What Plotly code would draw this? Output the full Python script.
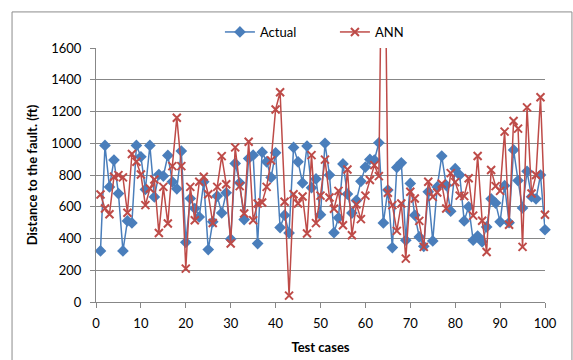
import plotly.graph_objects as go

# Test case numbers 1..100
test_cases = list(range(1, 101))

# Actual distance to the fault (ft)
actual = [
    322, 986, 725, 894, 683, 322, 511, 498, 986, 915,
    709, 986, 662, 803, 793, 923, 757, 713, 951, 376,
    652, 589, 536, 757, 330, 505, 667, 561, 688, 397,
    873, 751, 519, 904, 925, 368, 944, 883, 785, 940,
    469, 547, 435, 974, 883, 750, 982, 720, 775, 550,
    1000, 800, 437, 530, 870, 680, 560, 640, 760, 850,
    898, 894, 1003, 498, 705, 343, 848, 877, 389, 747,
    547, 410, 351, 694, 385, 725, 919, 735, 572, 840,
    800, 511, 600, 389, 415, 379, 473, 650, 623, 505,
    733, 500, 958, 765, 592, 823, 663, 650, 800, 455,
]

# ANN estimated distance (ft)
ann = [
    677, 589, 553, 789, 799, 785, 562, 932, 883, 803,
    610, 715, 772, 435, 725, 494, 856, 1161, 856, 210,
    725, 515, 757, 789, 679, 498, 725, 919, 742, 368,
    974, 730, 557, 1009, 515, 620, 627, 725, 892, 1213,
    1321, 631, 40, 679, 620, 665, 431, 925, 497, 670,
    897, 658, 587, 700, 484, 835, 421, 615, 522, 670,
    768, 862, 793, 3200, 688, 610, 448, 620, 273, 694,
    652, 511, 347, 757, 662, 690, 745, 589, 812, 755,
    670, 667, 780, 544, 920, 512, 315, 831, 730, 700,
    1073, 487, 1140, 1092, 347, 1226, 684, 800, 1290, 550,
]

x_ticks = list(range(0, 101, 10))
y_ticks = list(range(0, 1601, 200))

FONT = "Lato, 'Open Sans', sans-serif"
GRID = "#878787"

fig = go.Figure()
fig.add_trace(go.Scatter(
    x=test_cases, y=actual, name="Actual", mode="lines+markers",
    line=dict(color="#4A7EBB", width=1.5),
    marker=dict(symbol="diamond", size=9, color="#4A7EBB"),
    cliponaxis=False,
))
fig.add_trace(go.Scatter(
    x=test_cases, y=ann, name="ANN", mode="lines+markers",
    line=dict(color="#BE4B48", width=1.5),
    marker=dict(symbol="x-thin-open", size=8, color="#BE4B48",
                line=dict(color="#BE4B48", width=2)),
    cliponaxis=False,
))

fig.update_layout(
    width=573, height=360,
    margin=dict(l=96, r=28, t=48, b=58),
    paper_bgcolor="white", plot_bgcolor="white",
    font=dict(family=FONT, size=13, color="#000000"),
    showlegend=True,
    legend=dict(orientation="h", x=0.276, y=1.063, xanchor="left",
                yanchor="middle", font=dict(size=13), bgcolor="rgba(0,0,0,0)",
                entrywidth=70, entrywidthmode="pixels"),
    shapes=[dict(type="rect", xref="paper", yref="paper",
                 x0=-0.187, x1=1.06, y0=-0.25, y1=1.142,
                 line=dict(color="#8c8c8c", width=1), layer="below")],
)

fig.update_xaxes(
    range=[0, 100], tickvals=x_ticks, ticktext=[str(v) for v in x_ticks],
    showgrid=False, zeroline=False, automargin=False,
    showline=True, linecolor=GRID, linewidth=1,
    ticks="outside", ticklen=5, tickcolor=GRID, ticklabelstandoff=4,
    title=dict(text="<b>Test cases</b>", font=dict(size=13), standoff=13),
)
fig.update_yaxes(
    range=[0, 1600], tickvals=y_ticks, ticktext=[str(v) for v in y_ticks],
    showgrid=True, gridcolor=GRID, gridwidth=1, zeroline=False, automargin=False,
    showline=True, linecolor=GRID, linewidth=1,
    ticks="outside", ticklen=5, tickcolor=GRID, ticklabelstandoff=6,
    title=dict(text="<b>Distance to the fault. (ft)</b>", font=dict(size=13),
               standoff=10),
)

fig.write_html("out.html")
